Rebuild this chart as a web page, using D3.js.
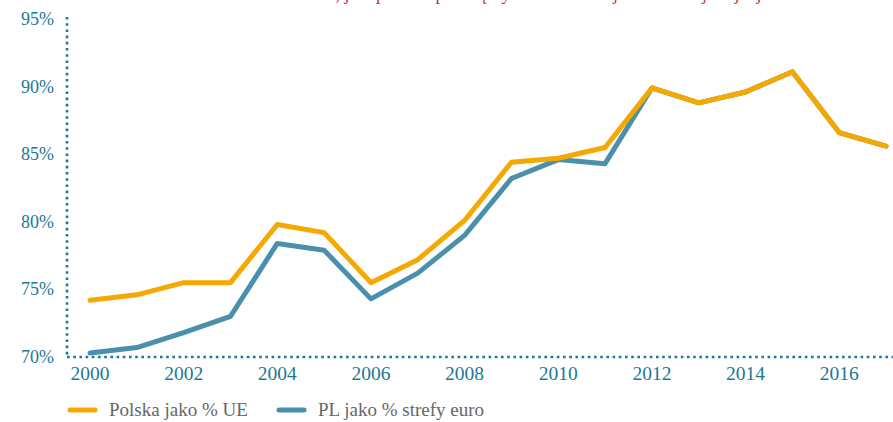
<!DOCTYPE html>
<html>
<head>
<meta charset="utf-8">
<script src="https://cdn.jsdelivr.net/npm/d3@7"></script>
<style>
    body { margin: 0; background: #fff; }
    svg { display: block; font-family: "Liberation Serif", "DejaVu Serif", serif; }
</style>
</head>
<body>
<div id="chart"></div>
<script>
var years = [2000, 2001, 2002, 2003, 2004, 2005, 2006, 2007, 2008, 2009, 2010, 2011, 2012, 2013, 2014, 2015, 2016, 2017];
// Polska jako % UE
var plUE = [74.2, 74.6, 75.5, 75.5, 79.8, 79.2, 75.5, 77.2, 80.1, 84.4, 84.7, 85.5, 89.9, 88.8, 89.6, 91.1, 86.6, 85.6];
// PL jako % strefy euro
var plEuro = [70.3, 70.7, 71.8, 73.0, 78.4, 77.9, 74.3, 76.2, 79.0, 83.2, 84.6, 84.3, 89.9, 88.8, 89.6, 91.1, 86.6, 85.6];
var yTicks = [70, 75, 80, 85, 90, 95];
var xTicks = [2000, 2002, 2004, 2006, 2008, 2010, 2012, 2014, 2016];
var seriesNames = ["Polska jako % UE", "PL jako % strefy euro"];
var title = "Dochód, jaki posiada przeciętny Polak w relacji do średniej unijnej";

var width = 893, height = 422;
var teal = "#1b7896";
var orange = "#f5a800";
var blue = "#4a8fab";

var svg = d3.select("#chart")
    .append("svg")
    .attr("width", width)
    .attr("height", height);

var x = d3.scaleLinear().domain([2000, 2017]).range([90, 886]);
var y = d3.scaleLinear().domain([70, 95]).range([357, 19]);

// title, cut off at the top edge as in the original
svg.append("text")
    .attr("x", 520)
    .attr("y", 0)
    .attr("text-anchor", "middle")
    .attr("fill", "#c8283c")
    .style("font-size", "18px")
    .text(title);

// dotted axes
svg.append("line")
    .attr("x1", 67).attr("x2", 67)
    .attr("y1", 17).attr("y2", 357)
    .attr("stroke", teal)
    .attr("stroke-width", 2.6)
    .attr("stroke-dasharray", "2.6 3.6");

svg.append("line")
    .attr("x1", 67).attr("x2", width)
    .attr("y1", 357).attr("y2", 357)
    .attr("stroke", teal)
    .attr("stroke-width", 2.6)
    .attr("stroke-dasharray", "2.6 3.6");

// y labels
svg.selectAll(".ylab")
    .data(yTicks)
    .enter()
    .append("text")
    .attr("class", "ylab")
    .attr("x", 54)
    .attr("y", function (d) { return y(d) + 6; })
    .attr("text-anchor", "end")
    .attr("fill", teal)
    .style("font-size", "18px")
    .text(function (d) { return d + "%"; });

// x labels
svg.selectAll(".xlab")
    .data(xTicks)
    .enter()
    .append("text")
    .attr("class", "xlab")
    .attr("x", function (d) { return x(d); })
    .attr("y", 380)
    .attr("text-anchor", "middle")
    .attr("fill", teal)
    .style("font-size", "19.5px")
    .text(function (d) { return d; });

var line = d3.line()
    .x(function (d) { return x(d[0]); })
    .y(function (d) { return y(d[1]); });

function drawSeries(values, color) {
    svg.append("path")
        .datum(d3.zip(years, values))
        .attr("fill", "none")
        .attr("stroke", color)
        .attr("stroke-width", 5)
        .attr("stroke-linejoin", "round")
        .attr("stroke-linecap", "round")
        .attr("d", line);
}

drawSeries(plEuro, blue);
drawSeries(plUE, orange);

// legend
var legend = [
    { name: seriesNames[0], color: orange, x: 68 },
    { name: seriesNames[1], color: blue, x: 277 }
];
legend.forEach(function (item) {
    svg.append("line")
        .attr("x1", item.x + 2).attr("x2", item.x + 27)
        .attr("y1", 410).attr("y2", 410)
        .attr("stroke", item.color)
        .attr("stroke-width", 5)
        .attr("stroke-linecap", "round");
    svg.append("text")
        .attr("x", item.x + 41)
        .attr("y", 416)
        .attr("fill", "#666")
        .style("font-size", "19px")
        .text(item.name);
});
</script>
</body>
</html>
